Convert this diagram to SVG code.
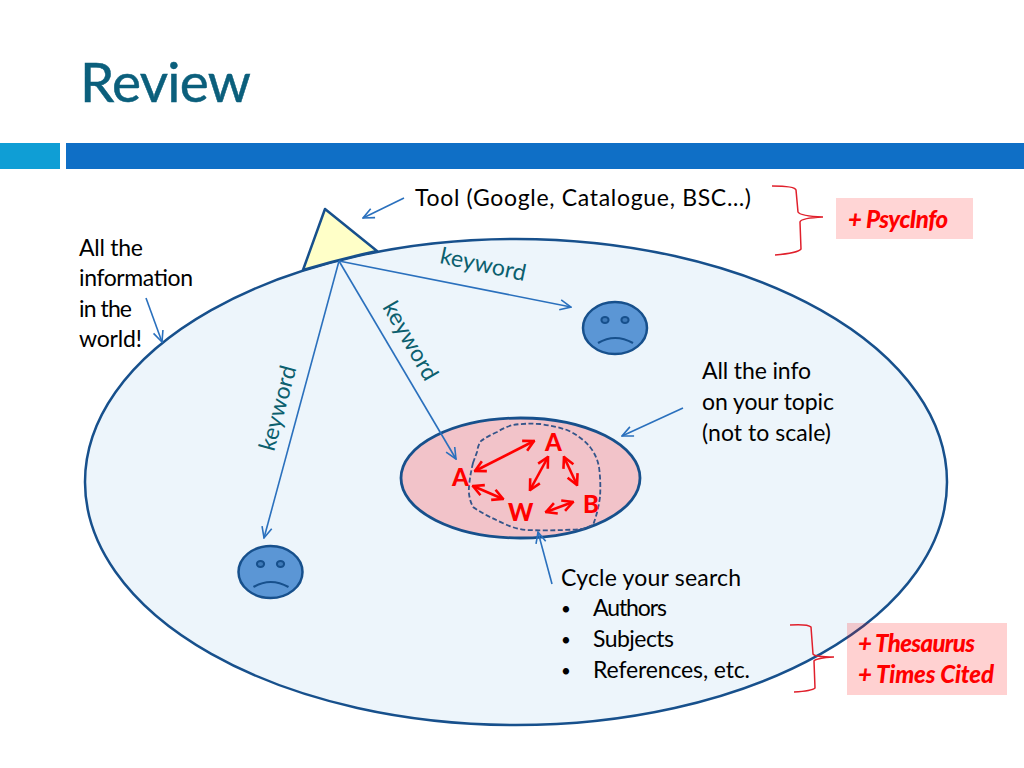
<svg xmlns="http://www.w3.org/2000/svg" width="1024" height="768" viewBox="0 0 1024 768">
<style>
text{font-family:"Lato","Noto Sans","Liberation Sans",sans-serif}
.t{font-size:23px;fill:#000}
.bu{font-size:17px;fill:#000}
.k{font-size:23px;fill:#0b5f6e}
.r{font-size:24px;fill:#f00;font-weight:900;font-style:italic}
.w{font-size:24px;fill:#f00;font-weight:900}
.c{fill:none;stroke:#2a70bd;stroke-width:1.6;marker-end:url(#open)}
.d{fill:none;stroke:#f00;stroke-width:2.6;marker-start:url(#redS);marker-end:url(#redE)}
.b{fill:none;stroke:#e0202c;stroke-width:1.5}
.face{fill:#5b96d5;stroke:#17508c;stroke-width:2.5}
.eye{fill:#3f7ab8;stroke:#17508c;stroke-width:2}
.mouth{fill:none;stroke:#17508c;stroke-width:2.2}
</style>
<defs>
<marker id="open" viewBox="0 0 14 14" refX="13" refY="7" markerWidth="14" markerHeight="14" orient="auto" markerUnits="userSpaceOnUse"><path d="M2 2L13 7L2 12" fill="none" stroke="#2a70bd" stroke-width="1.6"/></marker>
<marker id="redE" viewBox="0 0 14 14" refX="12.5" refY="7" markerWidth="14" markerHeight="14" orient="auto" markerUnits="userSpaceOnUse"><path d="M2 1.5L12.5 7L2 12.5" fill="none" stroke="#f00" stroke-width="2.6"/></marker>
<marker id="redS" viewBox="0 0 14 14" refX="1.5" refY="7" markerWidth="14" markerHeight="14" orient="auto" markerUnits="userSpaceOnUse"><path d="M12 1.5L1.5 7L12 12.5" fill="none" stroke="#f00" stroke-width="2.6"/></marker>
</defs>
<rect width="1024" height="768" fill="#fff"/>
<g id="header">
<text x="80" y="102" font-size="55" fill="#0b5f7c" stroke="#0b5f7c" stroke-width=".5" textLength="171">Review</text>
<rect x="0" y="143" width="60" height="26" fill="#0f9ed5"/>
<rect x="66" y="143" width="958" height="26" fill="#0f6fc6"/>
</g>
<g id="world"><ellipse cx="516" cy="482" rx="431" ry="243" fill="#edf5fb" stroke="#17508c" stroke-width="2.5"/></g>
<g id="tool"><path d="M325 209L377 251Q340 259 303 270Z" fill="#ffffc8" stroke="#17508c" stroke-width="2.5" stroke-linejoin="round"/></g>
<g id="topic">
<ellipse cx="520.5" cy="478" rx="119.5" ry="60" fill="#f2c3c9" stroke="#17508c" stroke-width="2.8"/>
<path d="M473 463L477 452Q478 445 481 441Q488 436 497 432Q505 427 513 425Q525 423 540 424Q555 426 567 430Q582 437 590 447Q597 456 599 467Q601 482 600 497Q598 512 593 525L583 529Q555 531 527 530Q516 529 507 525Q498 521 490 517Q480 512 473 507Q468 497 469 487Q470 475 473 463Z" fill="none" stroke="#34558a" stroke-width="1.8" stroke-dasharray="5 2.5"/>
</g>
<g id="face1" transform="translate(615 328)">
<ellipse class="face" rx="32" ry="26"/>
<ellipse class="eye" cx="-10" cy="-8" rx="3.6" ry="3"/><ellipse class="eye" cx="10" cy="-8" rx="3.6" ry="3"/>
<path class="mouth" d="M-17 15Q0 5 18 15"/>
</g>
<g id="face2" transform="translate(270.500 572)">
<ellipse class="face" rx="32" ry="26"/>
<ellipse class="eye" cx="-10" cy="-8" rx="3.6" ry="3"/><ellipse class="eye" cx="10" cy="-8" rx="3.6" ry="3"/>
<path class="mouth" d="M-17 15Q0 5 18 15"/>
</g>
<g id="connectors">
<path class="c" d="M339 261L571 307"/>
<path class="c" d="M339 261L456 459"/>
<path class="c" d="M339 261L264 538"/>
<path class="c" d="M404 198L363 218"/>
<path class="c" d="M146 298L162 342"/>
<path class="c" d="M683 408L622 436"/>
<path class="c" d="M552 584L538 532"/>
<path class="d" d="M475 471L534 441"/>
<path class="d" d="M473 486L503 499"/>
<path class="d" d="M530 490L548 457"/>
<path class="d" d="M564 457L577 485"/>
<path class="d" d="M546 512L573 502"/>
</g>
<g id="labels">
<text class="t" x="415" y="206" textLength="336">Tool (Google, Catalogue, BSC…)</text>
<text class="t" x="79" y="256" textLength="64">All the</text>
<text class="t" x="79" y="286" textLength="114">information</text>
<text class="t" x="79" y="317" textLength="53">in the</text>
<text class="t" x="79" y="347" textLength="63">world!</text>
<text class="t" x="702" y="379" textLength="109">All the info</text>
<text class="t" x="702" y="410" textLength="132">on your topic</text>
<text class="t" x="702" y="441" textLength="129">(not to scale)</text>
<text class="t" x="561" y="586" textLength="180">Cycle your search</text>
<text class="bu" x="561" y="615">•</text><text class="t" x="593" y="616" textLength="74">Authors</text>
<text class="bu" x="561" y="646">•</text><text class="t" x="593" y="647" textLength="81">Subjects</text>
<text class="bu" x="561" y="677">•</text><text class="t" x="593" y="678" textLength="157">References, etc.</text>
<text class="k" transform="translate(439 263) rotate(12)" textLength="87">keyword</text>
<text class="k" transform="translate(382 307) rotate(60)" textLength="87">keyword</text>
<text class="k" transform="translate(274 452) rotate(-75)" textLength="87">keyword</text>
<text class="w" x="452" y="486">A</text>
<text class="w" x="545" y="451">A</text>
<text class="w" x="508" y="521">W</text>
<text class="w" x="583" y="513">B</text>
</g>
<g id="brace1">
<path class="b" d="M772 186Q795 186 796 190L798 212Q800 216 823 217Q801 218 800 222L801 249Q798 253 775 255"/>
<rect x="836" y="198" width="137" height="41" fill="#ffd5d5"/>
<text class="r" x="848" y="228" textLength="100">+ PsycInfo</text>
</g>
<g id="brace2">
<rect x="847" y="623" width="160" height="72" fill="#f00" fill-opacity=".18"/>
<path class="b" d="M790 625Q808 624 811 627L813 654Q815 657 834 657Q816 658 814 661L815 688Q812 691 794 692"/>
<text class="r" x="858" y="652" textLength="117">+ Thesaurus</text>
<text class="r" x="858" y="683" textLength="136">+ Times Cited</text>
</g>
</svg>
